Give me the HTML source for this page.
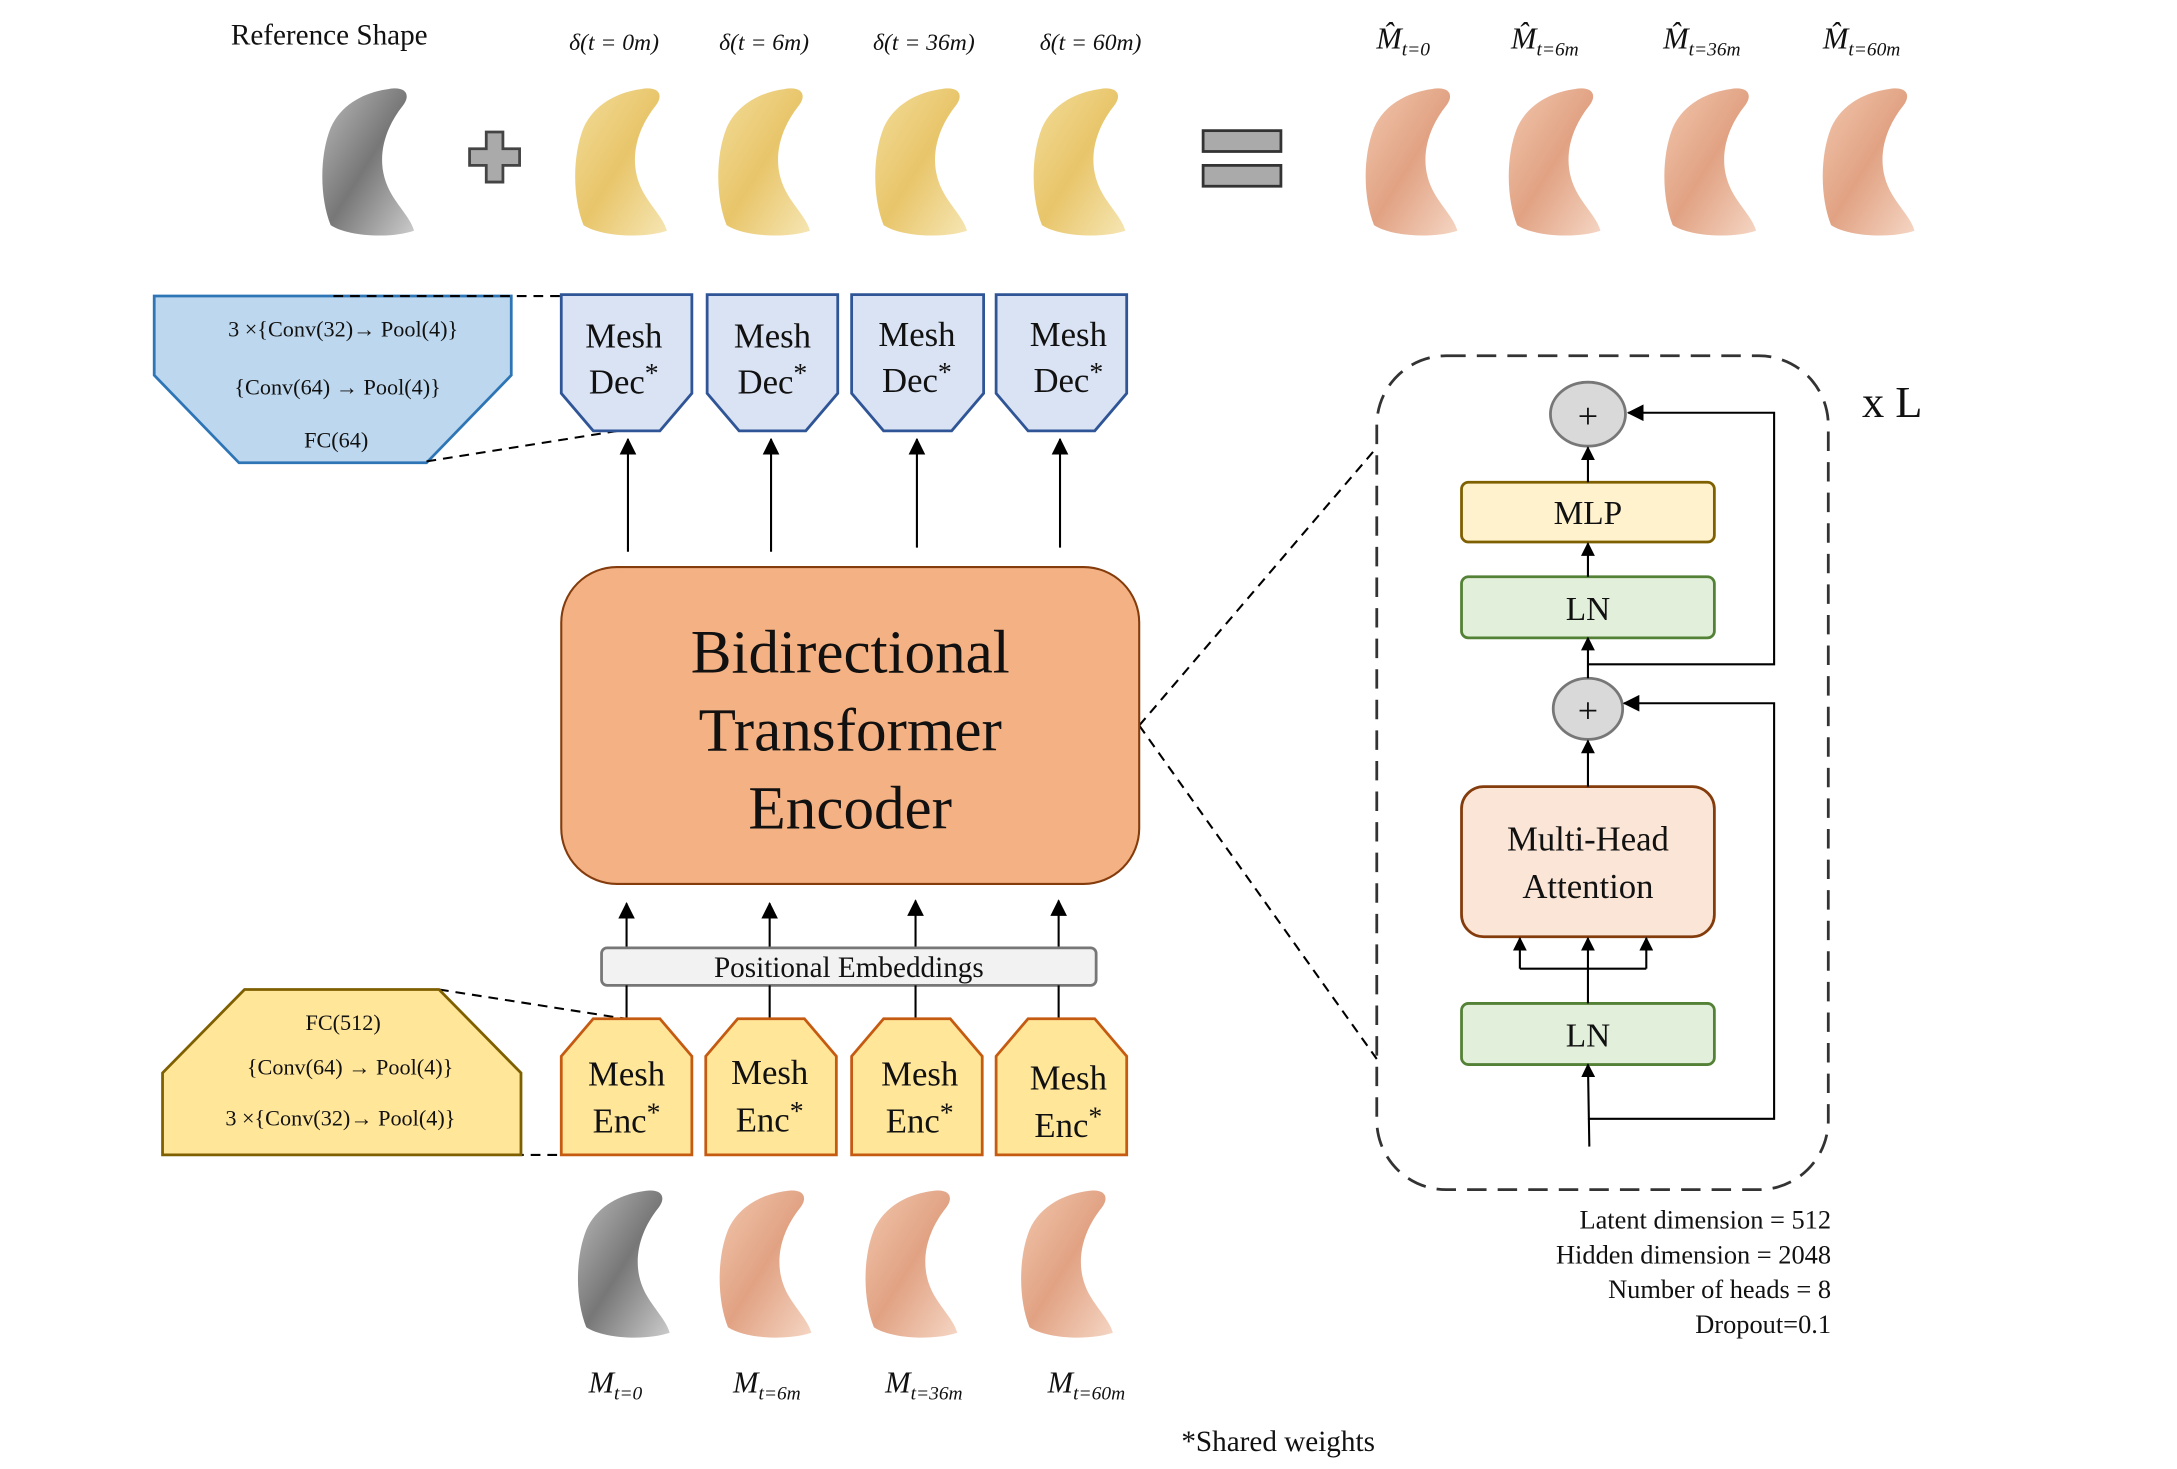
<!DOCTYPE html>
<html><head><meta charset="utf-8"><style>
html,body{margin:0;padding:0;background:#fff}
svg{display:block}
text{font-family:"Liberation Serif",serif;fill:#111}
</style></head><body>
<svg width="2177" height="1469" viewBox="0 0 1567 1057" preserveAspectRatio="none" xmlns="http://www.w3.org/2000/svg">
<defs>
<linearGradient id="gg" x1="0" y1="0" x2="1" y2="1"><stop offset="0" stop-color="#bbb"/><stop offset=".5" stop-color="#777"/><stop offset="1" stop-color="#ccc"/></linearGradient>
<linearGradient id="gy" x1="0" y1="0" x2="1" y2="1"><stop offset="0" stop-color="#f3dd9a"/><stop offset=".5" stop-color="#e8c56a"/><stop offset="1" stop-color="#f6e6b4"/></linearGradient>
<linearGradient id="go" x1="0" y1="0" x2="1" y2="1"><stop offset="0" stop-color="#f2c7ae"/><stop offset=".5" stop-color="#e1a283"/><stop offset="1" stop-color="#f5d6c4"/></linearGradient>
<path id="mesh" d="M50,2 C62,0 66,6 60,14 C44,34 40,58 52,78 C58,88 66,96 68,104 C50,110 20,108 8,100 C0,80 0,50 8,30 C16,12 34,4 50,2 Z"/>
<marker id="ar" markerWidth="10" markerHeight="10" refX="9" refY="5" orient="auto" markerUnits="userSpaceOnUse"><path d="M0,0 L10,5 L0,10 Z" fill="#000"/></marker>
<marker id="ar2" markerWidth="12" markerHeight="12" refX="11" refY="6" orient="auto" markerUnits="userSpaceOnUse"><path d="M0,0 L12,6 L0,12 Z" fill="#000"/></marker>
</defs>

<text x="237" y="32" font-size="21" text-anchor="middle">Reference Shape</text>
<g font-size="17" font-style="italic" text-anchor="middle">
<text x="442" y="36">δ(t = 0m)</text><text x="550" y="36">δ(t = 6m)</text>
<text x="665" y="36">δ(t = 36m)</text><text x="785" y="36">δ(t = 60m)</text>
</g>
<g font-size="22" font-style="italic" text-anchor="middle">
<text x="1010" y="35">M̂<tspan font-size="14" dy="5">t=0</tspan></text>
<text x="1112" y="35">M̂<tspan font-size="14" dy="5">t=6m</tspan></text>
<text x="1225" y="35">M̂<tspan font-size="14" dy="5">t=36m</tspan></text>
<text x="1340" y="35">M̂<tspan font-size="14" dy="5">t=60m</tspan></text>
</g>
<use href="#mesh" x="230" y="62" fill="url(#gg)"/>
<use href="#mesh" x="412" y="62" fill="url(#gy)"/>
<use href="#mesh" x="515" y="62" fill="url(#gy)"/>
<use href="#mesh" x="628" y="62" fill="url(#gy)"/>
<use href="#mesh" x="742" y="62" fill="url(#gy)"/>
<use href="#mesh" x="981" y="62" fill="url(#go)"/>
<use href="#mesh" x="1084" y="62" fill="url(#go)"/>
<use href="#mesh" x="1196" y="62" fill="url(#go)"/>
<use href="#mesh" x="1310" y="62" fill="url(#go)"/>
<path d="M350,95 h12 v12 h12 v12 h-12 v12 h-12 v-12 h-12 v-12 h12 Z" fill="#aaa" stroke="#444" stroke-width="2"/>
<rect x="866" y="94" width="56" height="15" fill="#aaa" stroke="#333" stroke-width="2"/>
<rect x="866" y="119" width="56" height="15" fill="#aaa" stroke="#333" stroke-width="2"/>

<polygon points="111,213 368,213 368,270 307,333 172,333 111,270" fill="#bdd7ee" stroke="#2e75b6" stroke-width="2"/>
<g font-size="16" text-anchor="middle"><text x="247" y="242">3 ×{Conv(32)→ Pool(4)}</text><text x="243" y="284">{Conv(64) → Pool(4)}</text><text x="242" y="322">FC(64)</text></g>
<g stroke="#000" stroke-width="1.5" stroke-dasharray="7,5" fill="none">
<line x1="240" y1="213" x2="450" y2="213"/><line x1="307" y1="332" x2="445" y2="310"/>
<line x1="316" y1="712" x2="450" y2="733"/><line x1="250" y1="831" x2="450" y2="831"/>
<line x1="820" y1="522" x2="991" y2="322"/><line x1="820" y1="522" x2="991" y2="762"/>
</g>
<g fill="#dae3f3" stroke="#2f5597" stroke-width="2">
<polygon points="404,212 498,212 498,283 475,310 427,310 404,283"/>
<polygon points="509,212 603,212 603,283 580,310 532,310 509,283"/>
<polygon points="613,212 708,212 708,283 685,310 636,310 613,283"/>
<polygon points="717,212 811,212 811,283 788,310 740,310 717,283"/>
</g>
<g font-size="25" text-anchor="middle">
<text x="449" y="250">Mesh</text><text x="449" y="283">Dec<tspan font-size="20" dy="-8">*</tspan></text>
<text x="556" y="250">Mesh</text><text x="556" y="283">Dec<tspan font-size="20" dy="-8">*</tspan></text>
<text x="660" y="249">Mesh</text><text x="660" y="282">Dec<tspan font-size="20" dy="-8">*</tspan></text>
<text x="769" y="249">Mesh</text><text x="769" y="282">Dec<tspan font-size="20" dy="-8">*</tspan></text>
</g>
<g stroke="#000" stroke-width="1.5" marker-end="url(#ar2)">
<line x1="452" y1="397" x2="452" y2="316"/><line x1="555" y1="397" x2="555" y2="316"/>
<line x1="660" y1="394" x2="660" y2="316"/><line x1="763" y1="394" x2="763" y2="316"/>
<line x1="451" y1="682" x2="451" y2="650"/><line x1="554" y1="682" x2="554" y2="650"/>
<line x1="659" y1="682" x2="659" y2="648"/><line x1="762" y1="682" x2="762" y2="648"/>
</g>

<rect x="404" y="408" width="416" height="228" rx="40" fill="#f4b183" stroke="#843c0c" stroke-width="1.5"/>
<g font-size="44" text-anchor="middle"><text x="612" y="484">Bidirectional</text><text x="612" y="540">Transformer</text><text x="612" y="596">Encoder</text></g>

<rect x="433" y="682" width="356" height="27" rx="4" fill="#f2f2f2" stroke="#777" stroke-width="2"/>
<text x="611" y="703" font-size="21" text-anchor="middle">Positional Embeddings</text>
<g stroke="#000" stroke-width="1.5"><line x1="451" y1="709" x2="451" y2="733"/><line x1="554" y1="709" x2="554" y2="733"/><line x1="659" y1="709" x2="659" y2="733"/><line x1="762" y1="709" x2="762" y2="733"/></g>

<polygon points="176,712 316,712 375,772 375,831 117,831 117,772" fill="#ffe699" stroke="#7f6000" stroke-width="2"/>
<g font-size="16" text-anchor="middle"><text x="247" y="741">FC(512)</text><text x="252" y="773">{Conv(64) → Pool(4)}</text><text x="245" y="810">3 ×{Conv(32)→ Pool(4)}</text></g>
<g fill="#ffe699" stroke="#c55a11" stroke-width="2">
<polygon points="404,760 427,733 475,733 498,760 498,831 404,831"/>
<polygon points="508,760 531,733 579,733 602,760 602,831 508,831"/>
<polygon points="613,760 636,733 684,733 707,760 707,831 613,831"/>
<polygon points="717,760 740,733 788,733 811,760 811,831 717,831"/>
</g>
<g font-size="25" text-anchor="middle">
<text x="451" y="781">Mesh</text><text x="451" y="815">Enc<tspan font-size="20" dy="-8">*</tspan></text>
<text x="554" y="780">Mesh</text><text x="554" y="814">Enc<tspan font-size="20" dy="-8">*</tspan></text>
<text x="662" y="781">Mesh</text><text x="662" y="815">Enc<tspan font-size="20" dy="-8">*</tspan></text>
<text x="769" y="784">Mesh</text><text x="769" y="818">Enc<tspan font-size="20" dy="-8">*</tspan></text>
</g>

<use href="#mesh" x="414" y="855" fill="url(#gg)"/>
<use href="#mesh" x="516" y="855" fill="url(#go)"/>
<use href="#mesh" x="621" y="855" fill="url(#go)"/>
<use href="#mesh" x="733" y="855" fill="url(#go)"/>
<g font-size="22" font-style="italic" text-anchor="middle" fill="#444">
<text x="443" y="1002">M<tspan font-size="14" dy="5">t=0</tspan></text>
<text x="552" y="1002">M<tspan font-size="14" dy="5">t=6m</tspan></text>
<text x="665" y="1002">M<tspan font-size="14" dy="5">t=36m</tspan></text>
<text x="782" y="1002">M<tspan font-size="14" dy="5">t=60m</tspan></text>
</g>
<text x="920" y="1044" font-size="21" text-anchor="middle">*Shared weights</text>

<rect x="991" y="256" width="325" height="600" rx="50" fill="none" stroke="#333" stroke-width="2" stroke-dasharray="14,8"/>
<text x="1362" y="300" font-size="32" text-anchor="middle">x L</text>
<ellipse cx="1143" cy="298" rx="27" ry="23" fill="#d9d9d9" stroke="#777" stroke-width="2"/>
<text x="1143" y="308" font-size="26" text-anchor="middle">+</text>
<ellipse cx="1143" cy="510" rx="25" ry="22" fill="#d9d9d9" stroke="#777" stroke-width="2"/>
<text x="1143" y="520" font-size="26" text-anchor="middle">+</text>
<rect x="1052" y="347" width="182" height="43" rx="5" fill="#fff2cc" stroke="#7f6000" stroke-width="2"/>
<text x="1143" y="377" font-size="24" text-anchor="middle">MLP</text>
<rect x="1052" y="415" width="182" height="44" rx="5" fill="#e2efda" stroke="#538135" stroke-width="2"/>
<text x="1143" y="446" font-size="24" text-anchor="middle">LN</text>
<rect x="1052" y="566" width="182" height="108" rx="16" fill="#fbe5d6" stroke="#843c0c" stroke-width="2"/>
<text x="1143" y="612" font-size="25" text-anchor="middle">Multi-Head</text>
<text x="1143" y="646" font-size="25" text-anchor="middle">Attention</text>
<rect x="1052" y="722" width="182" height="44" rx="5" fill="#e2efda" stroke="#538135" stroke-width="2"/>
<text x="1143" y="753" font-size="24" text-anchor="middle">LN</text>
<g stroke="#000" stroke-width="1.5" fill="none">
<line x1="1144" y1="825" x2="1143" y2="766" marker-end="url(#ar)"/>
<polyline points="1143,805 1277,805 1277,506 1169,506" marker-end="url(#ar2)"/>
<line x1="1143" y1="722" x2="1143" y2="675" marker-end="url(#ar)"/>
<polyline points="1094,697 1185,697"/>
<line x1="1094" y1="697" x2="1094" y2="675" marker-end="url(#ar)"/>
<line x1="1185" y1="697" x2="1185" y2="675" marker-end="url(#ar)"/>
<line x1="1143" y1="566" x2="1143" y2="533" marker-end="url(#ar)"/>
<line x1="1143" y1="488" x2="1143" y2="459" marker-end="url(#ar)"/>
<polyline points="1143,478 1277,478 1277,297 1172,297" marker-end="url(#ar2)"/>
<line x1="1143" y1="415" x2="1143" y2="391" marker-end="url(#ar)"/>
<line x1="1143" y1="347" x2="1143" y2="322" marker-end="url(#ar)"/>
</g>
<g font-size="19" text-anchor="end">
<text x="1318" y="884">Latent dimension = 512</text>
<text x="1318" y="909">Hidden dimension = 2048</text>
<text x="1318" y="934">Number of heads = 8</text>
<text x="1318" y="959">Dropout=0.1</text>
</g>
</svg>
</body></html>
